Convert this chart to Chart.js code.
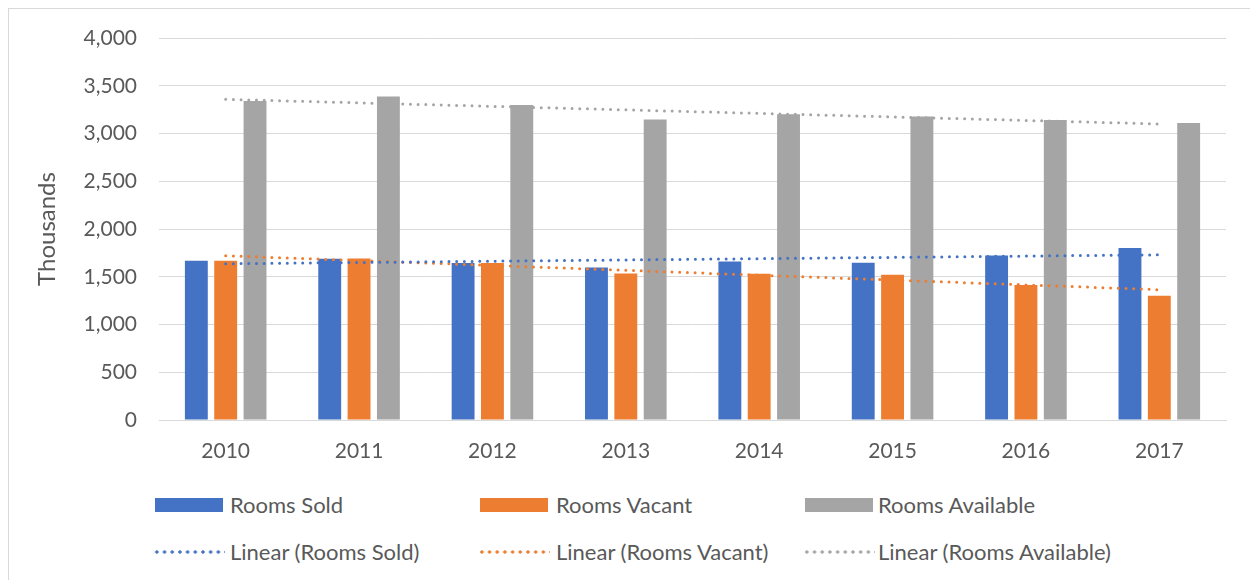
<!DOCTYPE html>
<html lang="en">
<head>
  <meta charset="UTF-8" />
  <title>Rooms Sold / Vacant / Available</title>
  <script src="https://cdn.jsdelivr.net/npm/chart.js"></script>
  <style>
    body { margin: 0; width: 1250px; height: 580px; overflow: hidden; background: #fff; font-family: Lato, "Open Sans", sans-serif; }
    #frame { position: absolute; left: 8px; top: 8px; width: 1300px; height: 700px; border: 1px solid #d9d9d9; }
    #roomsChart { position: absolute; left: 0; top: 0; }
    .lg { position: absolute; color: #595959; font-size: 22px; line-height: 24px; white-space: nowrap; }
    .swatch { position: absolute; width: 68px; height: 14px; }
    .dots { position: absolute; width: 72px; height: 4px; background-size: 7.7px 4px; background-repeat: repeat-x; }
  </style>
</head>
<body>
  <div id="frame"></div>
  <canvas id="roomsChart" width="1250" height="470"></canvas>

  <!-- legend, laid out in three columns like the original -->
  <div id="legend"></div>

  <script>
    const years = ['2010', '2011', '2012', '2013', '2014', '2015', '2016', '2017'];
    const roomsSold      = [1667, 1688, 1643, 1598, 1660, 1646, 1723, 1800];
    const roomsVacant    = [1667, 1691, 1643, 1535, 1531, 1520, 1413, 1301];
    const roomsAvailable = [3341, 3387, 3299, 3146, 3202, 3178, 3142, 3111];

    // trend lines: end points, joined straight across
    const trendSold      = [1636, null, null, null, null, null, null, 1730];
    const trendVacant    = [1720, null, null, null, null, null, null, 1364];
    const trendAvailable = [3358, null, null, null, null, null, null, 3100];

    const yTicks = [0, 500, 1000, 1500, 2000, 2500, 3000, 3500, 4000];

    const BLUE = '#4472C4', ORANGE = '#ED7D31', GRAY = '#A5A5A5';
    const TEXT = '#595959', GRID = '#d9d9d9';
    const font = { family: 'Lato, "Open Sans", sans-serif', size: 21 };

    function trend(label, data, color) {
      return {
        type: 'line', label: label, data: data, order: 0,
        borderColor: color, borderWidth: 3, borderCapStyle: 'round',
        borderDash: [0, 7.7], pointRadius: 0, spanGaps: true, fill: false
      };
    }

    const chart = new Chart(document.getElementById('roomsChart'), {
      type: 'bar',
      data: {
        labels: years,
        datasets: [
          { label: 'Rooms Sold', data: roomsSold, backgroundColor: BLUE, order: 1 },
          { label: 'Rooms Vacant', data: roomsVacant, backgroundColor: ORANGE, order: 1 },
          { label: 'Rooms Available', data: roomsAvailable, backgroundColor: GRAY, order: 1 },
          trend('Linear (Rooms Sold)', trendSold, BLUE),
          trend('Linear (Rooms Vacant)', trendVacant, ORANGE),
          trend('Linear (Rooms Available)', trendAvailable, GRAY)
        ]
      },
      options: {
        responsive: false,
        animation: false,
        datasets: { bar: { categoryPercentage: 0.66, barPercentage: 0.78 } },
        layout: { padding: { left: 0, top: 38, right: 24, bottom: 0 } },
        plugins: { legend: { display: false }, tooltip: { enabled: false } },
        scales: {
          x: {
            grid: { display: false, drawTicks: false },
            border: { color: GRID, width: 1 },
            ticks: { color: TEXT, font: font, padding: 19 },
            afterFit: s => { s.height = 50; }
          },
          y: {
            min: 0, max: 4000,
            afterBuildTicks: s => { s.ticks = yTicks.map(v => ({ value: v })); },
            grid: { color: GRID, lineWidth: 1, drawTicks: false },
            border: { display: false },
            ticks: { color: TEXT, font: font, padding: 22, callback: v => v.toLocaleString('en-US') },
            title: {
              display: true, text: 'Thousands', color: TEXT,
              font: { family: font.family, size: 24 }, padding: { top: 33, bottom: 0 }
            },
            afterFit: s => { s.width = 159; }
          }
        }
      }
    });

    // HTML legend
    const legendItems = [
      { text: 'Rooms Sold', color: BLUE, kind: 'box', x: 155 },
      { text: 'Rooms Vacant', color: ORANGE, kind: 'box', x: 480 },
      { text: 'Rooms Available', color: GRAY, kind: 'box', x: 805 },
      { text: 'Linear (Rooms Sold)', color: BLUE, kind: 'dots', x: 153 },
      { text: 'Linear (Rooms Vacant)', color: ORANGE, kind: 'dots', x: 478 },
      { text: 'Linear (Rooms Available)', color: GRAY, kind: 'dots', x: 803 }
    ];
    const legend = document.getElementById('legend');
    legendItems.forEach((it, i) => {
      const rowY = i < 3 ? 505 : 552;
      const mark = document.createElement('div');
      if (it.kind === 'box') {
        mark.className = 'swatch';
        mark.style.left = it.x + 'px';
        mark.style.top = (rowY - 7) + 'px';
        mark.style.background = it.color;
      } else {
        mark.className = 'dots';
        mark.style.left = it.x + 'px';
        mark.style.top = (rowY - 2) + 'px';
        mark.style.backgroundImage = `radial-gradient(circle, ${it.color} 1.4px, transparent 1.9px)`;
      }
      legend.appendChild(mark);
      const label = document.createElement('div');
      label.className = 'lg';
      label.textContent = it.text;
      label.style.left = [230, 556, 878][i % 3] + 'px';
      label.style.top = (rowY - 12) + 'px';
      legend.appendChild(label);
    });
  </script>
</body>
</html>
